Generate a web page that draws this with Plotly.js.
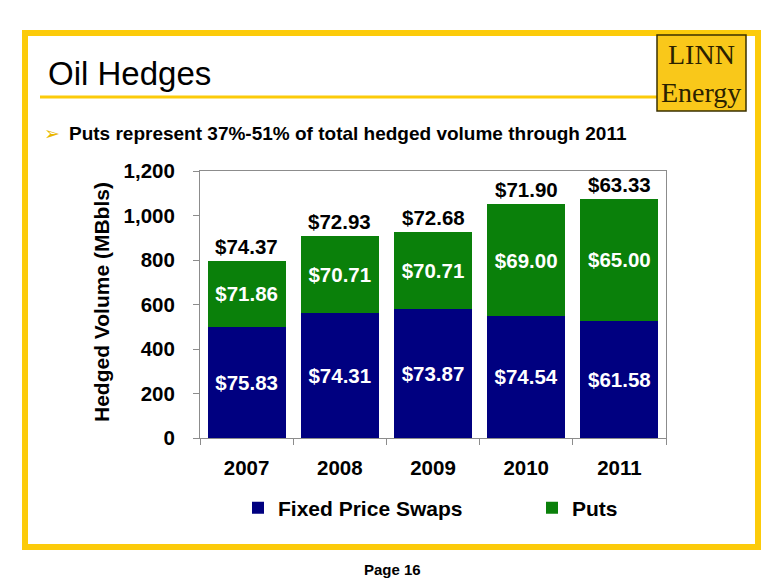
<!DOCTYPE html>
<html>
<head>
<meta charset="utf-8">
<script src="https://cdn.plot.ly/plotly-3.0.1.min.js"></script>
<style>
  html, body { margin: 0; padding: 0; background: #ffffff; }
  #chart { width: 780px; height: 587px; }
</style>
</head>
<body>
<div id="chart"></div>
<script>
// ---- data ----
const years = ["2007", "2008", "2009", "2010", "2011"];
const swapsVolume = [500, 560, 580, 550, 526];
const putsVolume = [295, 350, 348, 500, 550];
const swapsPrice = ["$75.83", "$74.31", "$73.87", "$74.54", "$61.58"];
const putsPrice = ["$71.86", "$70.71", "$70.71", "$69.00", "$65.00"];
const totalPrice = ["$74.37", "$72.93", "$72.68", "$71.90", "$63.33"];
const yTicks = [0, 200, 400, 600, 800, 1000, 1200];

// ---- helpers (pixel -> paper) ----
const W = 780, H = 587;
const px = v => v / W;
const py = v => 1 - v / H;

const FONT = "Liberation Sans, Arial, sans-serif";
const NAVY = "#000080";
const GREEN = "#0a800a";
const YELLOW = "#fccb0a";
const FS = 20.5;

const traces = [
  {
    type: "bar", name: "Fixed Price Swaps", x: years, y: swapsVolume,
    text: swapsPrice, textposition: "inside", insidetextanchor: "middle",
    textfont: { family: FONT, size: FS, color: "#ffffff", weight: "bold" },
    marker: { color: NAVY }, legend: "legend", hoverinfo: "x+y+name",
    constraintext: "none"
  },
  {
    type: "bar", name: "Puts", x: years, y: putsVolume,
    text: putsPrice, textposition: "inside", insidetextanchor: "middle",
    textfont: { family: FONT, size: FS, color: "#ffffff", weight: "bold" },
    marker: { color: GREEN }, legend: "legend2", hoverinfo: "x+y+name",
    constraintext: "none"
  }
];

// total-price labels above each stack (x given as category index)
const annotations = years.map((yr, i) => ({
  x: i, y: swapsVolume[i] + putsVolume[i], xref: "x", yref: "y",
  text: totalPrice[i], showarrow: false, yanchor: "bottom", yshift: 1,
  font: { family: FONT, size: FS, color: "#000000", weight: "bold" }
}));

annotations.push(
  { xref: "paper", yref: "paper", x: px(46), y: py(74), xanchor: "left", yanchor: "middle",
    text: "Oil Hedges", showarrow: false,
    font: { family: FONT, size: 33, color: "#000000" } },
  { xref: "paper", yref: "paper", x: px(42), y: py(133), xanchor: "left", yanchor: "middle",
    text: "\u27A2", showarrow: false,
    font: { family: "DejaVu Sans, sans-serif", size: 19, color: "#e9b700" } },
  { xref: "paper", yref: "paper", x: px(67), y: py(133), xanchor: "left", yanchor: "middle",
    text: "Puts represent 37%-51% of total hedged volume through 2011", showarrow: false,
    font: { family: FONT, size: 19, color: "#000000", weight: "bold" } },
  { xref: "paper", yref: "paper", x: px(101), y: py(302), xanchor: "center", yanchor: "middle",
    text: "Hedged Volume (MBbls)", showarrow: false, textangle: -90,
    font: { family: FONT, size: 21, color: "#000000", weight: "bold" } },
  { xref: "paper", yref: "paper", x: px(701), y: py(55), xanchor: "center", yanchor: "middle",
    text: "LINN", showarrow: false,
    font: { family: "Liberation Serif, Times New Roman, serif", size: 28, color: "#2b2200" } },
  { xref: "paper", yref: "paper", x: px(701), y: py(92), xanchor: "center", yanchor: "middle",
    text: "Energy", showarrow: false,
    font: { family: "Liberation Serif, Times New Roman, serif", size: 28, color: "#2b2200" } },
  { xref: "paper", yref: "paper", x: px(392), y: py(569), xanchor: "center", yanchor: "middle",
    text: "Page 16", showarrow: false,
    font: { family: FONT, size: 15, color: "#000000", weight: "bold" } }
);

const shapes = [
  // outer yellow frame
  { type: "rect", xref: "paper", yref: "paper", x0: px(25), x1: px(758), y0: py(33), y1: py(547),
    line: { color: YELLOW, width: 6 }, fillcolor: "rgba(0,0,0,0)", layer: "below" },
  // title underline
  { type: "line", xref: "paper", yref: "paper", x0: px(40), x1: px(657), y0: py(97), y1: py(97),
    line: { color: YELLOW, width: 3 } },
  // logo box
  { type: "rect", xref: "paper", yref: "paper", x0: px(657), x1: px(746), y0: py(35), y1: py(111),
    line: { color: "#3a3000", width: 1.5 }, fillcolor: "#f9c81a" }
];

const tickFont = { family: FONT, size: FS, color: "#000000", weight: "bold" };
const legendFont = { family: FONT, size: 21, color: "#000000", weight: "bold" };

const layout = {
  width: W, height: H,
  margin: { l: 0, r: 0, t: 0, b: 0 },
  paper_bgcolor: "#ffffff", plot_bgcolor: "#ffffff",
  barmode: "stack", bargap: 0.165,
  showlegend: true,
  xaxis: {
    domain: [px(200), px(666)], type: "category", range: [-0.5, 4.5],
    showline: true, linecolor: "#8c8c8c", linewidth: 1, mirror: true,
    ticks: "outside", tickson: "boundaries", ticklen: 6, tickcolor: "#8c8c8c",
    tickfont: tickFont, ticklabelstandoff: 11, showgrid: false, automargin: false,
    fixedrange: true
  },
  yaxis: {
    domain: [py(438), py(171)], range: [0, 1200], tickvals: yTicks,
    tickformat: ",d",
    showline: true, linecolor: "#8c8c8c", linewidth: 1, mirror: true,
    ticks: "outside", ticklen: 6, tickcolor: "#8c8c8c",
    tickfont: tickFont, ticklabelstandoff: 14, showgrid: false, zeroline: false, automargin: false,
    fixedrange: true
  },
  legend: {
    orientation: "h", x: px(238), y: py(508), xanchor: "left", yanchor: "middle",
    font: legendFont, bgcolor: "rgba(0,0,0,0)", borderwidth: 0
  },
  legend2: {
    orientation: "h", x: px(532), y: py(508), xanchor: "left", yanchor: "middle",
    font: legendFont, bgcolor: "rgba(0,0,0,0)", borderwidth: 0
  },
  annotations: annotations,
  shapes: shapes
};

Plotly.newPlot("chart", traces, layout, { displayModeBar: false, staticPlot: true });
</script>
</body>
</html>
